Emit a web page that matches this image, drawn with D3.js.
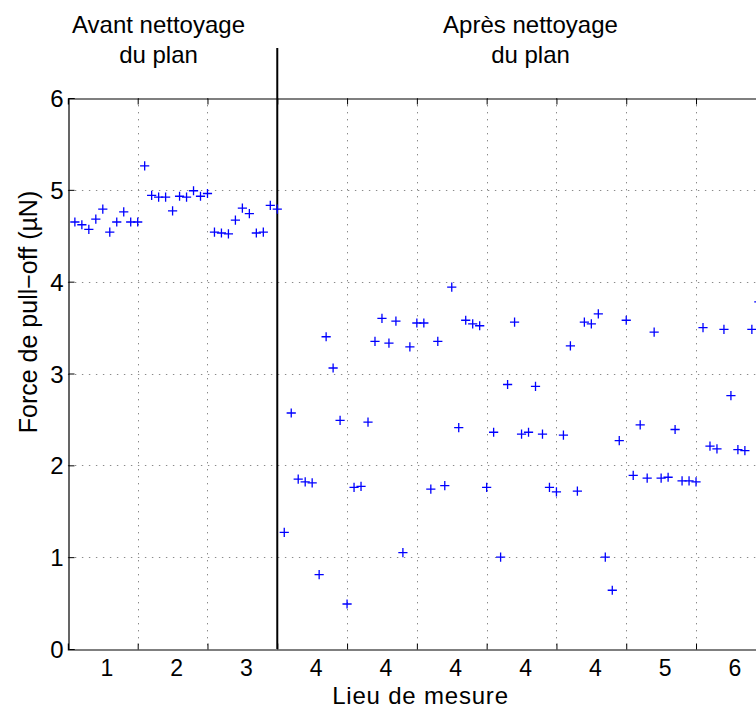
<!DOCTYPE html>
<html><head><meta charset="utf-8">
<script src="https://cdn.jsdelivr.net/npm/d3@7"></script>
<style>
body{margin:0;background:#fff;}
svg{display:block;background:#fff;}
text{font-family:"Liberation Sans",Arial,Helvetica,sans-serif;fill:#000;}
</style>
</head><body>
<svg id="chart" width="756" height="709"></svg>
<script>
// ---------- data ----------
const tickLabels = ["1","2","3","4","4","4","4","4","5","6"];
const tickLabelPos = [5.5,15.5,25.5,35.5,45.5,55.5,65.5,75.5,85.5,95.5];
const gridX = [10,20,30,40,50,60,70,80,90,100];
const yTicks = [0,1,2,3,4,5,6];
// measurements 1..30 (before cleaning)
const avantValues = [4.65,4.62,4.57,4.68,4.79,4.54,4.65,4.76,4.65,4.65,
                     5.26,4.94,4.92,4.92,4.77,4.93,4.92,4.99,4.93,4.96,
                     4.54,4.53,4.52,4.67,4.80,4.74,4.53,4.54,4.83,4.79];
// measurements 31..99 (after cleaning)
const apresValues = [1.27,2.57,1.85,1.82,1.81,0.81,3.40,3.06,2.49,0.49,
                     1.76,1.77,2.47,3.35,3.60,3.33,3.57,1.05,3.29,3.55,
                     3.55,1.74,3.35,1.78,3.94,2.41,3.58,3.54,3.52,1.76,
                     2.36,1.00,2.88,3.56,2.34,2.36,2.86,2.34,1.76,1.71,
                     2.33,3.30,1.72,3.56,3.54,3.65,1.00,0.64,2.27,3.58,
                     1.89,2.44,1.86,3.45,1.86,1.87,2.39,1.83,1.83,1.82,
                     3.50,2.21,2.18,3.48,2.76,2.17,2.16,3.48,3.78];
const titleAvant = ["Avant nettoyage","du plan"];
const titleApres = ["Après nettoyage","du plan"];
const xLabel = "Lieu de mesure";
const yLabel = "Force de pull\u2212off (\u00b5N)";

// ---------- layout ----------
const svg = d3.select("#chart");
const x = d3.scaleLinear().domain([0,101]).range([67.9,772.8]);
const y = d3.scaleLinear().domain([0,6]).range([649,98]);
const FS = 24;

const points = avantValues.map((v,i)=>({i:i+1,v}))
  .concat(apresValues.map((v,i)=>({i:i+31,v})));

// grid
const grid = svg.append("g").attr("stroke","#8a8a8a").attr("stroke-width",1)
  .attr("stroke-dasharray","1.4,5.6").attr("fill","none");
grid.selectAll("line.gx").data(gridX).join("line").attr("class","gx")
  .attr("x1",d=>Math.round(x(d))+0.5).attr("x2",d=>Math.round(x(d))+0.5)
  .attr("y1",y(6)).attr("y2",y(0));
grid.selectAll("line.gy").data(yTicks.slice(1,6)).join("line").attr("class","gy")
  .attr("x1",x(0)).attr("x2",x(101))
  .attr("y1",d=>Math.round(y(d))+0.5).attr("y2",d=>Math.round(y(d))+0.5);

// axes (MATLAB-style inward ticks)
const axBottom = svg.append("g").attr("transform","translate(0,649.5)")
  .call(d3.axisBottom(x).tickValues(gridX).tickSize(-6).tickFormat(""));
const axTop = svg.append("g").attr("transform","translate(0,98.5)")
  .call(d3.axisTop(x).tickValues(gridX).tickSize(-6).tickFormat(""));
const axLeft = svg.append("g").attr("transform","translate(68.5,0)")
  .call(d3.axisLeft(y).tickValues(yTicks).tickSize(-6).tickPadding(5).tickFormat(d3.format("d")));
const axLabels = svg.append("g").attr("transform","translate(0,649)")
  .call(d3.axisBottom(x).tickValues(tickLabelPos).tickSize(0).tickPadding(11)
        .tickFormat((d,i)=>tickLabels[i]));
axLabels.select(".domain").remove();
[axBottom,axTop,axLeft].forEach(g=>{
  g.select(".domain").attr("stroke","#000").attr("stroke-width",1.2);
  g.selectAll(".tick line").attr("stroke","#000").attr("stroke-width",1);
});
svg.selectAll(".tick text").attr("font-size",FS).attr("font-family","Liberation Sans, Arial, sans-serif").attr("fill","#000");
axLabels.selectAll(".tick text").attr("font-size",23);
axLeft.selectAll(".tick text").attr("dy","0.36em");

// separator line
svg.append("line")
  .attr("x1",x(30)).attr("x2",x(30)).attr("y1",48).attr("y2",649)
  .attr("stroke","#000").attr("stroke-width",2);

// markers
svg.append("g").selectAll("path").data(points).join("path")
  .attr("transform",d=>`translate(${x(d.i)},${y(d.v)})`)
  .attr("d","M-4.6,0H4.6M0,-4.6V4.6")
  .attr("stroke","#0000ff").attr("stroke-width",1.3).attr("fill","none");

// titles
function title(lines, cx){
  lines.forEach((t,k)=>{
    svg.append("text").attr("x",cx).attr("y",33+k*30)
      .attr("text-anchor","middle").attr("font-size",FS).text(t);
  });
}
title(titleAvant, 158.5);
title(titleApres, 530.5);

// axis labels
svg.append("text").attr("x",420.5).attr("y",704)
  .attr("text-anchor","middle").attr("font-size",24)
  .attr("letter-spacing",0.8).text(xLabel);
svg.append("text").attr("transform","translate(37,312) rotate(-90)")
  .attr("text-anchor","middle").attr("font-size",25).text(yLabel);
</script>
</body></html>
